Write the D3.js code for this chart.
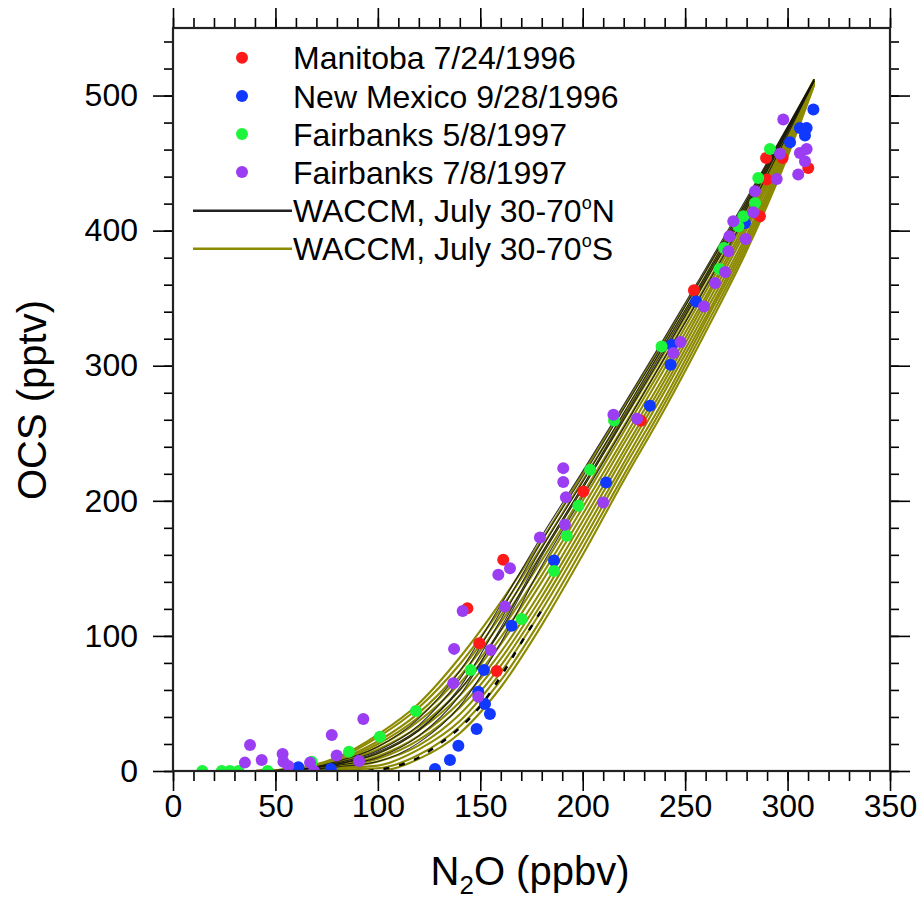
<!DOCTYPE html>
<html>
<head>
<meta charset="utf-8">
<script src="https://cdn.jsdelivr.net/npm/d3@7"></script>
<style>
body { margin: 0; background: #fff; }
text { font-family: "Liberation Sans", Arial, Helvetica, sans-serif; fill: #000; }
</style>
</head>
<body>
<div id="chart"></div>
<script>
// Observations (N2O ppbv, OCS pptv)
var manitoba = [[143.7,120.5],[149.5,94.6],[158,74],[161.2,156.3],[200.3,206.9],[228.4,259.3],[254.3,355.8],
  [286.5,410.6],[289.8,437.8],[289.5,453.8],[297.6,453.8],[310.1,446.4]];
var newMexico = [[61.2,2.7],[77,1.5],[127.9,1.5],[135.2,8.1],[139.3,18.7],[148.2,31.1],[154.7,42.2],[152.3,49.6],
  [149,58.7],[151.8,74.8],[165.3,107.6],[186,155.8],[211.4,213.6],[232.8,270.4],[242.9,300.7],[243.4,315.6],
  [255.3,347.6],[279.2,405.7],[301.2,465.4],[308.5,470.4],[306,476],[309.3,476],[312.6,489.6]];
var fairbanksMay = [[14.3,0],[23.8,0],[27.8,0],[31.9,0],[46.2,0],[67.7,6.9],[85.9,14.3],[101,25.4],[118.6,44.4],
  [145.3,74.8],[170.2,112.6],[186,148.1],[192.2,174.1],[197.9,196.3],[203.6,223],[215.3,259.5],[238.5,314.3],
  [266.7,371.6],[269,387.2],[276,403.2],[278.4,410.6],[284.1,420.5],[285.7,439],[291.4,460.5]];
var fairbanksJul = [[35.1,6.2],[37.6,19.3],[43.3,8.1],[53.5,12.6],[53.9,6.9],[56.3,3.7],[66.9,6.2],[68.8,0],
  [77.5,26.7],[79.9,11.4],[90.8,7.4],[92.9,38.5],[136.8,65],[137.2,90.4],[141.4,118.5],[149,55],[155.1,89.6],
  [158.8,145.2],[162,121.7],[164.5,150.1],[179.1,172.8],[190.5,224.2],[190.5,213.9],[191.8,202.7],[191.3,182.2],
  [210,198.7],[215,263.7],[226.5,260.7],[244.2,309.4],[247.8,317.6],[259.2,343.9],[264.6,361.3],[269.5,369.4],
  [271.1,384.7],[271.6,395.8],[279.6,393.8],[273.5,406.9],[283.3,413.6],[284.1,429.1],[294.7,438.3],[296.3,457],
  [297.9,482.2],[305.2,441.5],[308.5,451.3],[306,457.5],[309.3,460.5]];

// WACCM curves, OCS at these N2O values
var n2oGrid = [0, 40, 60, 80, 100, 120, 140, 160, 180, 200, 220, 240, 260, 280, 300, 313];
var waccmNorth = [
  [0,0,1,7,18,39,74,123,174,222,271,321,372,424,477,512],
  [0,0,1,6,15,34,68,118,170,218,268,318,370,422,476,512],
  [0,0,1,5,13,30,62,112,165,214,265,316,367,420,475,511],
  [0,0,0,4,10,26,56,106,161,211,262,313,365,418,474,511],
  [0,0,1,5,14,31,60,104,159,209,260,311,363,416,473,511],
  [0,0,0,3,7,21,48,95,152,203,254,306,358,412,471,511]
];
var waccmNorthDashed = [[95,0],[110,4],[120,10],[130,20],[140,32],[150,48],[160,70],[170,95],[182,124]];
var waccmSouth = [
  [0,0,2,10,27,50,84,125,171,220,269,319,370,422,476,512],
  [0,0,2,9,25,47,79,120,166,215,264,315,366,419,474,512],
  [0,0,2,8,22,43,74,115,161,210,260,310,363,416,473,511],
  [0,0,1,7,20,40,70,110,156,205,255,306,359,413,471,511],
  [0,0,1,6,18,37,65,104,150,200,251,302,355,410,469,511],
  [0,0,1,6,16,33,60,99,145,195,246,298,351,407,467,510],
  [0,0,1,5,13,30,56,94,140,190,242,293,348,404,466,510],
  [0,0,1,4,11,26,51,88,134,185,237,289,344,401,464,510],
  [0,0,1,3,9,23,47,83,129,180,233,285,340,397,462,509],
  [0,0,0,2,7,19,42,78,124,175,228,281,336,394,460,509],
  [0,0,0,2,4,16,37,73,119,170,224,276,333,391,459,509],
  [0,0,0,1,2,12,33,67,113,165,219,272,329,388,457,508],
  [0,0,0,0,0,9,28,62,108,160,215,268,325,385,455,508]
];

var xTicks = [0, 50, 100, 150, 200, 250, 300, 350];
var yTicks = [0, 100, 200, 300, 400, 500];

var svgWidth = 918;
var svgHeight = 906;
var margin = {top: 28, right: 28, bottom: 135, left: 173};
var width = svgWidth - margin.left - margin.right;
var height = svgHeight - margin.top - margin.bottom;

var svg = d3.select("#chart").append("svg")
  .attr("width", svgWidth)
  .attr("height", svgHeight);

var chartGroup = svg.append("g")
  .attr("transform", `translate(${margin.left}, ${margin.top})`);

var x = d3.scaleLinear().domain([0, 350]).range([0, width]);
var y = d3.scaleLinear().domain([0, 550]).range([height, 0]);

chartGroup.append("clipPath").attr("id", "plotClip")
  .append("rect").attr("width", width).attr("height", height);

var plot = chartGroup.append("g").attr("clip-path", "url(#plotClip)");

var line = d3.line()
  .x(d => x(d[0]))
  .y(d => y(d[1]))
  .curve(d3.curveMonotoneX);

function gridPoints(vals) {
  return n2oGrid.map((n, i) => [n, vals[i]]);
}

// model lines
plot.selectAll(".south").data(waccmSouth).enter().append("path")
  .attr("class", "south")
  .attr("d", d => line(gridPoints(d)))
  .attr("fill", "none")
  .attr("stroke", "#8c8a00")
  .attr("stroke-width", 2.1);

plot.selectAll(".north").data(waccmNorth).enter().append("path")
  .attr("class", "north")
  .attr("d", d => line(gridPoints(d)))
  .attr("fill", "none")
  .attr("stroke", "#111")
  .attr("stroke-width", 1.1)
  .attr("stroke-opacity", 0.85);

plot.append("path")
  .attr("d", line(waccmNorthDashed))
  .attr("fill", "none")
  .attr("stroke", "#000")
  .attr("stroke-width", 2.5)
  .attr("stroke-dasharray", "6,10");

// observations
var series = [
  {name: "Manitoba 7/24/1996", color: "#ff1a1a", data: manitoba},
  {name: "New Mexico 9/28/1996", color: "#1038ff", data: newMexico},
  {name: "Fairbanks 5/8/1997", color: "#1cf53c", data: fairbanksMay},
  {name: "Fairbanks 7/8/1997", color: "#9b3df2", data: fairbanksJul}
];

series.forEach(function(s) {
  plot.selectAll(null).data(s.data).enter().append("circle")
    .attr("cx", d => x(d[0]))
    .attr("cy", d => y(d[1]))
    .attr("r", 6)
    .attr("fill", s.color);
});

// axes
function styleAxis(g) {
  g.select(".domain").remove();
  g.selectAll("line").attr("stroke", "#000").attr("stroke-width", 1.6);
  g.selectAll("text").attr("font-size", 32).attr("fill", "#000");
}

chartGroup.append("g").attr("transform", `translate(0, ${height})`)
  .call(d3.axisBottom(x).tickValues(xTicks).tickSize(20).tickPadding(3)).call(styleAxis);
chartGroup.append("g").attr("transform", `translate(0, ${height})`)
  .call(d3.axisBottom(x).tickValues(d3.range(0, 351, 10)).tickSize(10).tickFormat("")).call(styleAxis);
chartGroup.append("g")
  .call(d3.axisTop(x).tickValues(xTicks).tickSize(20).tickFormat("")).call(styleAxis);
chartGroup.append("g")
  .call(d3.axisTop(x).tickValues(d3.range(0, 351, 10)).tickSize(10).tickFormat("")).call(styleAxis);

chartGroup.append("g")
  .call(d3.axisLeft(y).tickValues(yTicks).tickSize(20).tickPadding(15)).call(styleAxis);
chartGroup.append("g")
  .call(d3.axisLeft(y).tickValues(d3.range(0, 551, 20)).tickSize(9).tickFormat("")).call(styleAxis);
chartGroup.append("g").attr("transform", `translate(${width}, 0)`)
  .call(d3.axisRight(y).tickValues(yTicks).tickSize(20).tickFormat("")).call(styleAxis);
chartGroup.append("g").attr("transform", `translate(${width}, 0)`)
  .call(d3.axisRight(y).tickValues(d3.range(0, 551, 20)).tickSize(9).tickFormat("")).call(styleAxis);

chartGroup.append("rect")
  .attr("width", width).attr("height", height)
  .attr("fill", "none").attr("stroke", "#222").attr("stroke-width", 2.2);

// axis titles
var xTitle = svg.append("text")
  .attr("x", 530).attr("y", 885)
  .attr("text-anchor", "middle")
  .attr("font-size", 40);
xTitle.append("tspan").text("N");
xTitle.append("tspan").attr("font-size", 26).attr("dy", 9).text("2");
xTitle.append("tspan").attr("dy", -9).text("O (ppbv)");

svg.append("text")
  .attr("transform", "translate(46, 400) rotate(-90)")
  .attr("text-anchor", "middle")
  .attr("font-size", 40)
  .text("OCS (pptv)");

// legend
var legend = svg.append("g");
var rowY = [57.7, 96, 134, 172, 210.7, 248.7];

series.forEach(function(s, i) {
  legend.append("circle").attr("cx", 242).attr("cy", rowY[i]).attr("r", 6).attr("fill", s.color);
  legend.append("text").attr("x", 293).attr("y", rowY[i]).attr("dy", "0.36em")
    .attr("font-size", 32).text(s.name);
});

var lineLegend = [
  {label: "WACCM, July 30-70", hemi: "N", color: "#222"},
  {label: "WACCM, July 30-70", hemi: "S", color: "#8c8a00"}
];
lineLegend.forEach(function(l, i) {
  var yy = rowY[4 + i];
  legend.append("line").attr("x1", 193).attr("x2", 292).attr("y1", yy).attr("y2", yy)
    .attr("stroke", l.color).attr("stroke-width", 2.5);
  var t = legend.append("text").attr("x", 293).attr("y", yy).attr("dy", "0.36em").attr("font-size", 32);
  t.append("tspan").text(l.label);
  t.append("tspan").attr("font-size", 18).attr("dy", -13).text("o");
  t.append("tspan").attr("dy", 13).text(l.hemi);
});
</script>
</body>
</html>
